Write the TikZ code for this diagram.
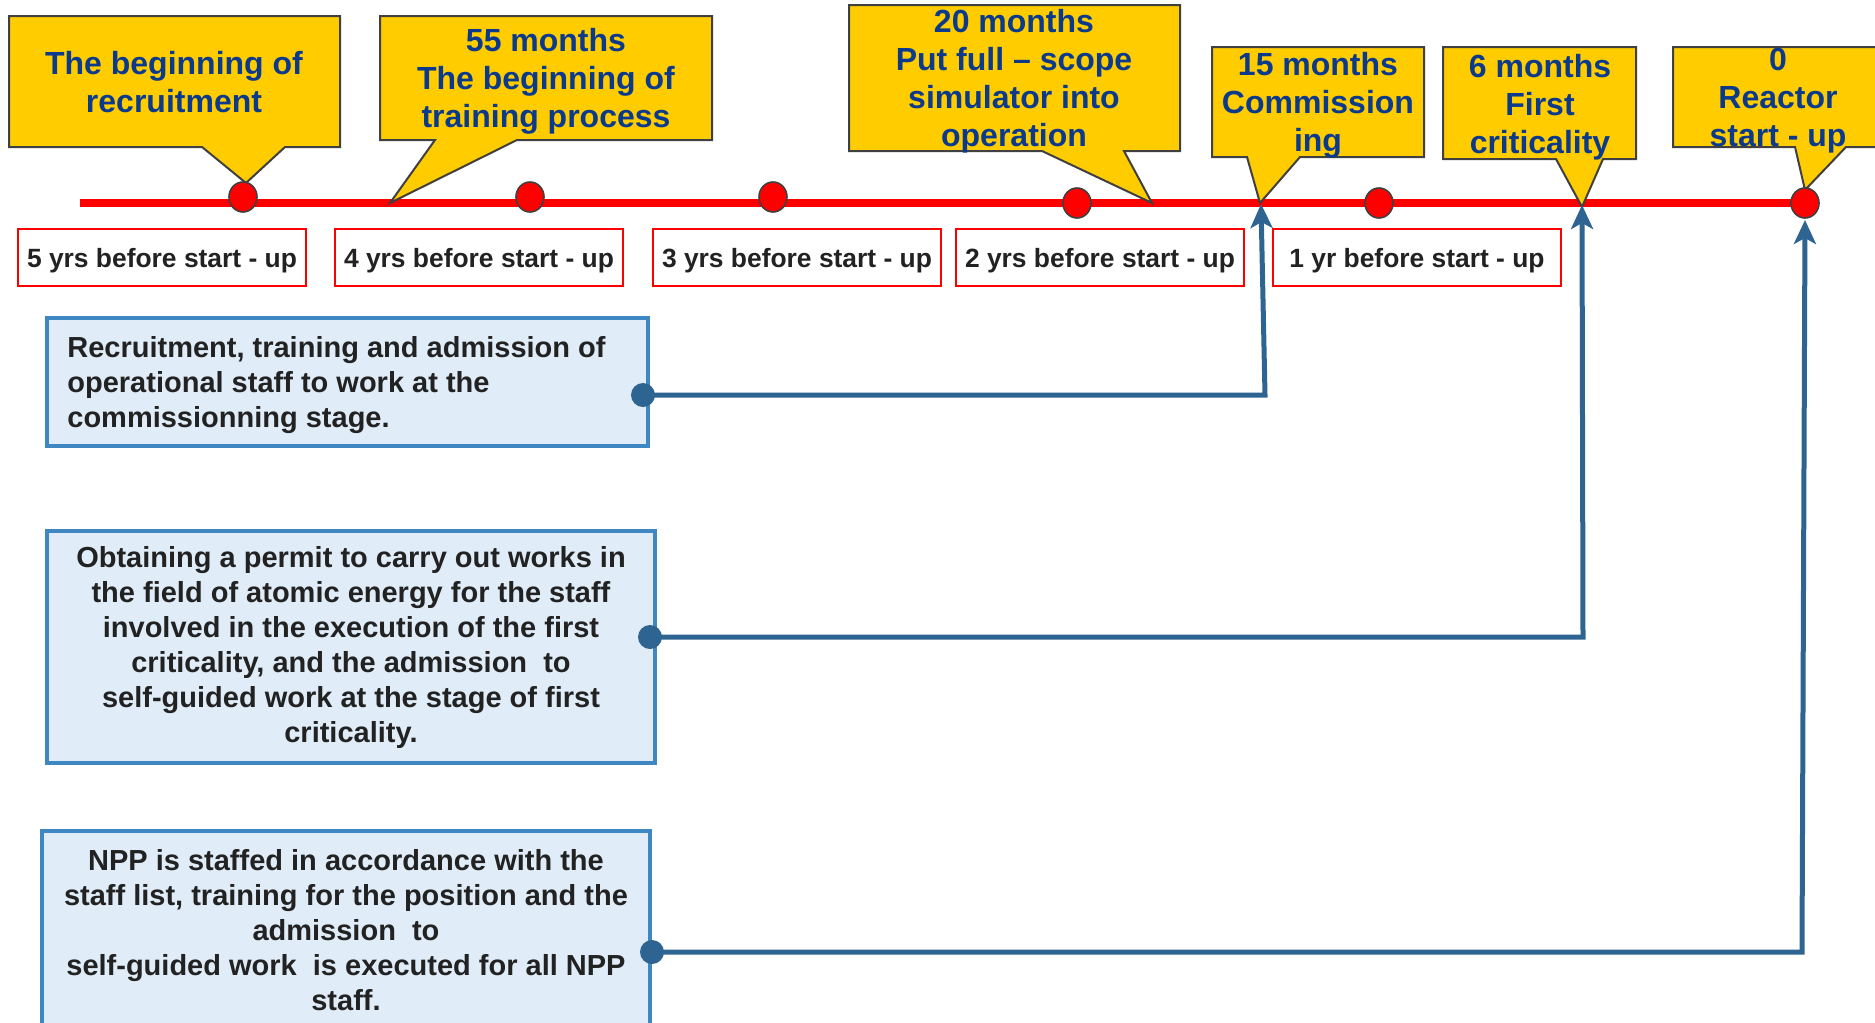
\documentclass[tikz,border=0pt]{standalone}
\usepackage{fontspec}
\setmainfont{Liberation Sans}
\usetikzlibrary{arrows.meta}
\definecolor{gold}{HTML}{FFCC00}
\definecolor{cborder}{HTML}{404040}
\definecolor{ctext}{HTML}{0B3A8C}
\definecolor{lblue}{HTML}{E0EDF8}
\definecolor{bborder}{HTML}{3F87C2}
\definecolor{conn}{HTML}{2E6491}
\definecolor{dtext}{HTML}{222222}
\begin{document}
\begin{tikzpicture}[x=0.5pt,y=-0.5pt,
  callout/.style={fill=gold,draw=cborder,line width=1pt},
  ctxt/.style={font=\bfseries\fontsize{16}{19}\selectfont,text=ctext,align=center,inner sep=0pt},
  lbl/.style={draw=red,line width=1pt,fill=white,font=\bfseries\fontsize{13.2}{16}\selectfont,text=dtext,
    minimum width=144pt,minimum height=28.5pt,inner sep=0pt,text depth=0pt,anchor=north west},
  infobox/.style={draw=bborder,line width=2pt,fill=lblue,font=\bfseries\fontsize{14.5}{17.5}\selectfont,
    text=dtext,inner sep=0pt,anchor=center},
  infotext/.style={font=\bfseries\fontsize{14.5}{17.5}\selectfont,text=dtext,inner sep=0pt},
  reddot/.style={fill=red,draw=cborder,line width=0.8pt},
  connline/.style={draw=conn,line width=2.5pt,-{Stealth[length=12pt,width=11pt,inset=3pt]}},
  startdot/.style={fill=conn}
]
\useasboundingbox (0,0) rectangle (1875,1023);
\clip (0,0) rectangle (1875,1023);

% timeline
\coordinate (tl0) at (80,203);
\coordinate (tl1) at (1805,203);
\draw[red,line width=4pt] (tl0) -- (tl1);

% callouts
\draw[callout] (9,16) -- (340,16) -- (340,147) -- (285,147) -- (246,183) -- (202,147) -- (9,147) -- cycle;
\node[ctxt] (c1) at (174,82) {The beginning of\\recruitment};

\draw[callout] (380,16) -- (712,16) -- (712,140) -- (517,140) -- (390,203) -- (435,140) -- (380,140) -- cycle;
\node[ctxt] (c2) at (546,81) {55 months\\The beginning of\\training process};

\draw[callout] (849,5) -- (1180,5) -- (1180,151) -- (1124,151) -- (1152,203) -- (1042,151) -- (849,151) -- cycle;
\node[ctxt] (c3) at (1014,81) {20 months\\Put full -- scope\\simulator into\\operation};

\draw[callout] (1212,47) -- (1424,47) -- (1424,157) -- (1300,157) -- (1260,203) -- (1247,157) -- (1212,157) -- cycle;
\node[ctxt] (c4) at (1318,105.5) {15 months\\Commission\\ing};

\draw[callout] (1443,47) -- (1636,47) -- (1636,159) -- (1603,159) -- (1582,207) -- (1556,159) -- (1443,159) -- cycle;
\node[ctxt] (c5) at (1540,107) {6 months\\First\\criticality};

\draw[callout] (1673,47) -- (1895,47) -- (1895,147) -- (1846,147) -- (1805,190) -- (1795,147) -- (1673,147) -- cycle;
\node[ctxt] (c6) at (1778,101) {0\\Reactor\\start - up};

% dots on timeline
\path[reddot] (243,197) ellipse [x radius=7pt,y radius=7.5pt];
\path[reddot] (530,197) ellipse [x radius=7pt,y radius=7.5pt];
\path[reddot] (773,197) ellipse [x radius=7pt,y radius=7.5pt];
\path[reddot] (1077,203) ellipse [x radius=7pt,y radius=7.5pt];
\path[reddot] (1379,203) ellipse [x radius=7pt,y radius=7.5pt];
\path[reddot] (1805,203) ellipse [x radius=7pt,y radius=7.5pt];

% year labels
\node[lbl] (y5) at (17,228) {5 yrs before start - up};
\node[lbl] (y4) at (334,228) {4 yrs before start - up};
\node[lbl] (y3) at (652,228) {3 yrs before start - up};
\node[lbl] (y2) at (955,228) {2 yrs before start - up};
\node[lbl] (y1) at (1272,228) {1 yr before start - up};

% info boxes
\node[infobox,minimum width=300.5pt,minimum height=64pt] (b1) at (347.5,382) {};
\node[infotext,align=left,anchor=west] (b1t) at ([xshift=11pt,yshift=-1.7pt]b1.west)
 {Recruitment, training and admission of\\operational staff to work at the\\commissionning stage.};
\node[infobox,minimum width=304pt,minimum height=116pt,align=center] (b2) at (351,647)
 {Obtaining a permit to carry out works in\\the field of atomic energy for the staff\\involved in the execution of the first\\criticality, and the admission\ \ to\\self-guided work at the stage of first\\criticality.};
\node[infobox,minimum width=304pt,minimum height=99pt,align=center] (b3) at (346,930)
 {NPP is staffed in accordance with the\\staff list, training for the position and the\\admission\ \ to\\self-guided work\ \ is executed for all NPP\\staff.};

% connectors
\coordinate (d1) at (643,395);
\coordinate (d2) at (650,637);
\coordinate (d3) at (652,952);
\coordinate (k1) at (1265,395);
\coordinate (k2) at (1583,637);
\coordinate (k3) at (1802,952);
\coordinate (a1) at (1261,204);
\coordinate (a2) at (1582,205);
\coordinate (a3) at (1805,220);
\draw[connline] (d1) -- (k1) -- (a1);
\draw[connline] (d2) -- (k2) -- (a2);
\draw[connline] (d3) -- (k3) -- (a3);
\fill[startdot] (d1) circle[radius=6pt];
\fill[startdot] (d2) circle[radius=6pt];
\fill[startdot] (d3) circle[radius=6pt];
\end{tikzpicture}
\end{document}
